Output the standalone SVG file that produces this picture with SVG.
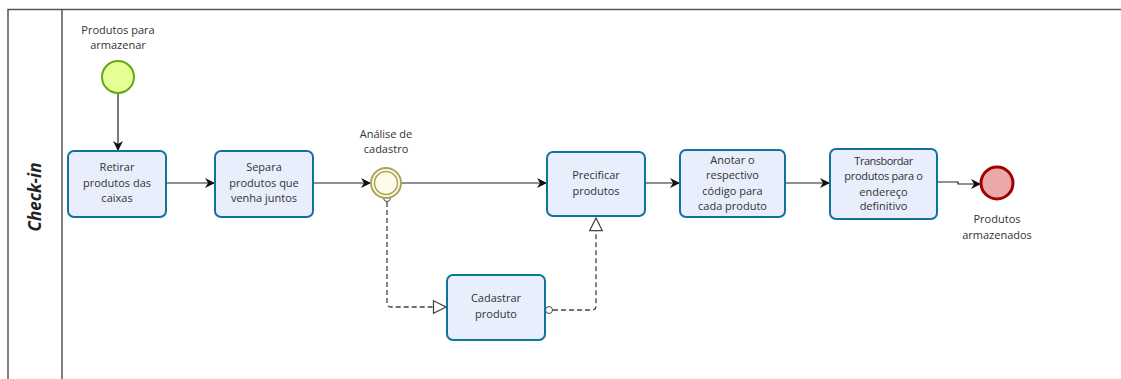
<svg xmlns="http://www.w3.org/2000/svg" width="1121" height="379" viewBox="0 0 1121 379">
<defs>
<style>
.lane{fill:none;stroke:#555;stroke-width:1.5}
.task{fill:#e8eefc;stroke:#10739e;stroke-width:2}
.t{font-family:"Open Sans","Noto Sans",sans-serif;font-size:11px;fill:#333;text-anchor:middle}
.flow{fill:none;stroke:#222;stroke-width:1.2}
.dash{fill:none;stroke:#444;stroke-width:1.3;stroke-dasharray:5,3}
</style>
<marker id="arr" viewBox="0 0 10 10" refX="9" refY="5" markerWidth="10" markerHeight="10" markerUnits="userSpaceOnUse" orient="auto">
<path d="M0,0 L10,5 L0,10 L3,5 z" fill="#111"/>
</marker>
<marker id="tri" viewBox="0 0 12 12" refX="11" refY="6" markerWidth="15" markerHeight="15" markerUnits="userSpaceOnUse" orient="auto">
<path d="M1,1 L11,6 L1,11 z" fill="#fff" stroke="#444" stroke-width="1"/>
</marker>
</defs>
<g id="pool">
<path class="lane" d="M8,379 L8,9.5 L1121,9.5"/>
<line class="lane" x1="62" y1="9.5" x2="62" y2="379"/>
<text transform="translate(41,197) rotate(-90)" text-anchor="middle" font-family="'Open Sans','Noto Sans',sans-serif" font-size="17" font-weight="bold" font-style="italic" fill="#222">Check-in</text>
</g>
<g id="connectors">
<line class="flow" x1="118" y1="94" x2="118" y2="150" marker-end="url(#arr)"/>
<line class="flow" x1="166" y1="183" x2="214" y2="183" marker-end="url(#arr)"/>
<line class="flow" x1="313" y1="183" x2="370" y2="183" marker-end="url(#arr)"/>
<line class="flow" x1="402" y1="183" x2="546" y2="183" marker-end="url(#arr)"/>
<line class="flow" x1="646" y1="183" x2="679" y2="183" marker-end="url(#arr)"/>
<line class="flow" x1="786" y1="183" x2="829" y2="183" marker-end="url(#arr)"/>
<path class="flow" d="M937,182 L958,182 L958,184 L980,184" marker-end="url(#arr)"/>
<path class="dash" d="M387,202 L387,303 Q387,307 391,307 L446,307" marker-end="url(#tri)"/>
<path class="dash" d="M553,310 L592,310 Q596,310 596,306 L596,218" marker-end="url(#tri)"/>
<circle cx="387" cy="198" r="3.5" fill="#fff" stroke="#444" stroke-width="1"/>
<circle cx="549" cy="310" r="3.5" fill="#fff" stroke="#444" stroke-width="1"/>
</g>
<g id="start">
<circle cx="118" cy="77" r="16" fill="#e6ff97" stroke="#62a716" stroke-width="2"/>
<text class="t" x="118" y="34">Produtos para</text>
<text class="t" x="118" y="49">armazenar</text>
</g>
<g id="task-retirar">
<rect class="task" x="68" y="151" width="98" height="66" rx="6"/>
<text class="t" x="117" y="171">Retirar</text>
<text class="t" x="117" y="186.5">produtos das</text>
<text class="t" x="117" y="202">caixas</text>
</g>
<g id="task-separa">
<rect class="task" x="215" y="151" width="98" height="66" rx="6"/>
<text class="t" x="264" y="171">Separa</text>
<text class="t" x="264" y="186.5">produtos que</text>
<text class="t" x="264" y="202">venha juntos</text>
</g>
<g id="event-analise">
<circle cx="386" cy="183" r="15" fill="#fffbea" stroke="#aaa45c" stroke-width="2"/>
<circle cx="386" cy="183" r="11.5" fill="none" stroke="#aaa45c" stroke-width="1.5"/>
<text class="t" x="386" y="138">Análise de</text>
<text class="t" x="386" y="153">cadastro</text>
</g>
<g id="task-precificar">
<rect class="task" x="547" y="152" width="98" height="64" rx="6"/>
<text class="t" x="596" y="179">Precificar</text>
<text class="t" x="596" y="194.5">produtos</text>
</g>
<g id="task-anotar">
<rect class="task" x="680" y="150" width="105" height="67" rx="6"/>
<text class="t" x="732.5" y="164">Anotar o</text>
<text class="t" x="732.5" y="179">respectivo</text>
<text class="t" x="732.5" y="195">código para</text>
<text class="t" x="732.5" y="210">cada produto</text>
</g>
<g id="task-transbordar">
<rect class="task" x="830" y="149" width="107" height="70" rx="6"/>
<text class="t" x="883.5" y="165" letter-spacing="-0.5">Transbordar</text>
<text class="t" x="883.5" y="180" letter-spacing="-0.3">produtos para o</text>
<text class="t" x="883.5" y="196">endereço</text>
<text class="t" x="883.5" y="210">definitivo</text>
</g>
<g id="task-cadastrar">
<rect class="task" x="447" y="275" width="98" height="65" rx="6"/>
<text class="t" x="496" y="302">Cadastrar</text>
<text class="t" x="496" y="317.5">produto</text>
</g>
<g id="end">
<circle cx="997" cy="183" r="16" fill="#eba8a8" stroke="#a10000" stroke-width="3"/>
<text class="t" x="997" y="223">Produtos</text>
<text class="t" x="997" y="239">armazenados</text>
</g>
</svg>
